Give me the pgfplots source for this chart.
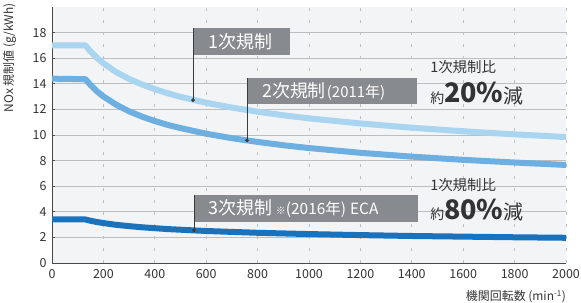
\documentclass[border=0pt]{standalone}
\usepackage{pgfplots}
\pgfplotsset{compat=1.18}
\usepackage{fontspec}
\setmainfont{Noto Sans CJK JP}
\definecolor{tierI}{HTML}{A9D5F0}
\definecolor{tierII}{HTML}{6DAFE0}
\definecolor{tierIII}{HTML}{1B72BC}
\definecolor{bgc}{HTML}{F3F4F6}
\definecolor{hgrid}{HTML}{BDBEC0}
\definecolor{vgrid}{HTML}{BFC1C4}
\definecolor{boxc}{HTML}{878A8F}
\definecolor{leaderc}{HTML}{3A3A3A}
\definecolor{labc}{HTML}{333333}
\definecolor{axc}{HTML}{4A4A4A}
\begin{document}
\begin{tikzpicture}
\begin{axis}[
 scale only axis, width=514bp, height=256bp,
 xmin=0, xmax=2000, ymin=0, ymax=20,
 xtick={0,200,...,2000}, ytick={0,2,...,18},
 axis x line*=bottom, axis y line*=left,
 axis line style={draw=axc, line width=0.9pt, -},
 axis background/.style={fill=bgc},
 xmajorgrids, ymajorgrids,
 x grid style={vgrid, dash pattern=on 3bp off 9bp, line width=0.7pt},
 y grid style={hgrid, line width=0.9pt},
 tick align=inside,
 major tick length=3bp,
 x tick style={draw=none},
 y tick style={draw=axc, line width=1pt},
 tick label style={font=\fontsize{12.5}{13}\selectfont, text=labc},
 /pgf/number format/assume math mode=true,
 /pgf/number format/1000 sep={},
 yticklabel style={xshift=-2bp},
 xticklabel style={yshift=-3bp},
 clip=false,
]
% Tier I
\addplot[tierI, line width=6bp, line join=round] coordinates {
(0,17.0)(130,17.0)(150,16.52)(175,16.02)(200,15.60)(250,14.91)(300,14.38)(350,13.95)(400,13.58)(450,13.26)(500,12.98)(600,12.52)(700,12.14)(800,11.82)(900,11.54)(1000,11.30)(1200,10.90)(1400,10.57)(1600,10.29)(1800,10.05)(2000,9.84)};
% Tier II
\addplot[tierII, line width=6bp, line join=round] coordinates {
(0,14.4)(130,14.36)(150,13.90)(175,13.41)(200,13.01)(250,12.36)(300,11.85)(350,11.44)(400,11.09)(450,10.79)(500,10.54)(600,10.10)(700,9.75)(800,9.46)(900,9.20)(1000,8.98)(1200,8.61)(1400,8.31)(1600,8.06)(1800,7.85)(2000,7.66)};
% Tier III
\addplot[tierIII, line width=6bp, line join=round] coordinates {
(0,3.40)(130,3.40)(150,3.30)(175,3.20)(200,3.12)(250,2.98)(300,2.88)(350,2.79)(400,2.72)(450,2.65)(500,2.60)(600,2.50)(700,2.43)(800,2.36)(900,2.31)(1000,2.26)(1200,2.18)(1400,2.11)(1600,2.06)(1800,2.01)(2000,1.97)};
% leaders
\addplot[leaderc, line width=0.9pt, mark=*, mark indices={2}, mark size=1.4bp, mark options={fill=leaderc, draw=leaderc}] coordinates {(548.6,18.36)(548.6,12.72)};
\addplot[leaderc, line width=0.9pt, mark=*, mark indices={2}, mark size=1.4bp, mark options={fill=leaderc, draw=leaderc}] coordinates {(759,14.45)(759,9.58)};
\addplot[leaderc, line width=0.9pt, mark=*, mark indices={2}, mark size=1.4bp, mark options={fill=leaderc, draw=leaderc}] coordinates {(552.5,5.31)(552.5,2.55)};
% boxes
\fill[boxc] (axis cs:552,16.25) rectangle (axis cs:926,18.36);
\node[anchor=west, inner sep=0, text=white, font=\fontsize{18}{18}\selectfont] at (axis cs:607,17.3) {1次規制};
\fill[boxc] (axis cs:762,12.42) rectangle (axis cs:1420,14.45);
\node[anchor=west, inner sep=0, text=white, font=\fontsize{18}{18}\selectfont] at (axis cs:817,13.44) {2次規制{\fontsize{15}{15}\selectfont\hspace{1bp}(2011年)}};
\fill[boxc] (axis cs:556,3.20) rectangle (axis cs:1424,5.31);
\node[anchor=west, inner sep=0, text=white, font=\fontsize{18}{18}\selectfont] at (axis cs:607,4.26) {3次規制\hspace{4bp}{\fontsize{10}{10}\selectfont ※}{\fontsize{15.5}{15.5}\selectfont (2016年)\hspace{4bp}ECA}};
% right annotations
\node[anchor=west, inner sep=0, text=labc, font=\fontsize{14.5}{14.5}\selectfont] at (axis cs:1471,15.3) {1次規制比};
\node[anchor=base west, inner sep=0, text=labc, font=\fontsize{14}{14}\selectfont] at (axis cs:1471,12.5) {約{\fontsize{27}{27}\selectfont\bfseries 20\%}{\fontsize{20}{20}\selectfont 減}};
\node[anchor=west, inner sep=0, text=labc, font=\fontsize{14.5}{14.5}\selectfont] at (axis cs:1471,6.1) {1次規制比};
\node[anchor=base west, inner sep=0, text=labc, font=\fontsize{14}{14}\selectfont] at (axis cs:1471,3.36) {約{\fontsize{27}{27}\selectfont\bfseries 80\%}{\fontsize{20}{20}\selectfont 減}};
% axis labels
\node[rotate=90, anchor=north east, inner sep=0, text=labc, font=\fontsize{12}{12}\selectfont] at (axis cs:-190.7,20.31) {NOx 規制値 (g/kWh)};
\node[anchor=east, inner sep=0, text=labc, font=\fontsize{12}{12}\selectfont] at (axis cs:2000,-2.65) {機関回転数 (min\textsuperscript{-1})};
\end{axis}
\pgfresetboundingbox
\useasboundingbox (-52bp,-40bp) rectangle (529bp,263bp);
\end{tikzpicture}
\end{document}
